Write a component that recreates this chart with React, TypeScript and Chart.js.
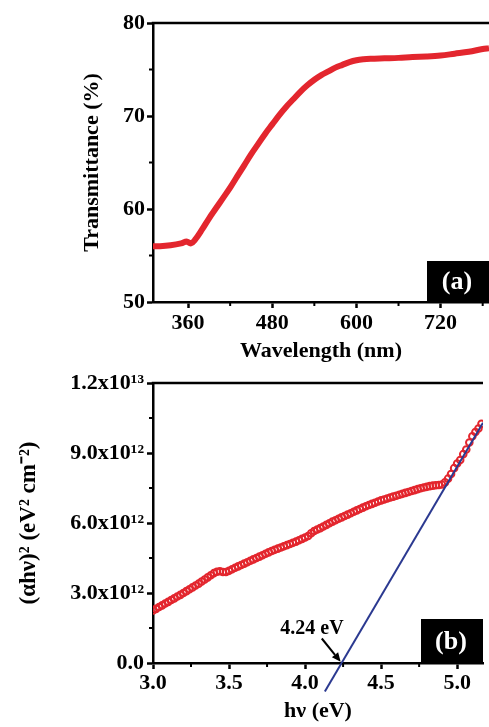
import React, { useEffect, useRef } from 'react';
import { Chart, registerables } from 'chart.js';

Chart.register(...registerables);

// ---------- Panel (a): transmittance ----------
const wavelengthNm = [310, 320, 335, 350, 358, 364, 370, 380, 390, 400, 410, 420, 430, 440, 450, 460, 470, 480, 490, 500, 510, 520, 530, 540, 550, 560, 570, 580, 590, 600, 610, 620, 640, 660, 680, 700, 720, 740, 760, 780, 789];
const transmittancePct = [56.0, 56.0, 56.1, 56.3, 56.5, 56.3, 56.7, 57.8, 59.0, 60.1, 61.2, 62.3, 63.5, 64.7, 65.9, 67.0, 68.1, 69.1, 70.1, 71.0, 71.8, 72.6, 73.3, 73.9, 74.4, 74.8, 75.2, 75.5, 75.8, 76.0, 76.1, 76.15, 76.2, 76.25, 76.35, 76.4, 76.5, 76.7, 76.9, 77.2, 77.3];
const xTicksA = [360, 480, 600, 720];
const xMinorA = [420, 540, 660, 780];
const yTicksA = [50, 60, 70, 80];
const yMinorA = [55, 65, 75];

// ---------- Panel (b): Tauc plot ----------
const photonEnergyEv = [
  3.00, 3.02, 3.04, 3.06, 3.08, 3.10, 3.12, 3.14, 3.16, 3.18,
  3.20, 3.22, 3.24, 3.26, 3.28, 3.30, 3.32, 3.34, 3.36, 3.38,
  3.40, 3.42, 3.44, 3.46, 3.48, 3.50, 3.52, 3.54, 3.56, 3.58,
  3.60, 3.62, 3.64, 3.66, 3.68, 3.70, 3.72, 3.74, 3.76, 3.78,
  3.80, 3.82, 3.84, 3.86, 3.88, 3.90, 3.92, 3.94, 3.96, 3.98,
  4.00, 4.02, 4.04, 4.06, 4.08, 4.10, 4.12, 4.14, 4.16, 4.18,
  4.20, 4.22, 4.24, 4.26, 4.28, 4.30, 4.32, 4.34, 4.36, 4.38,
  4.40, 4.42, 4.44, 4.46, 4.48, 4.50, 4.52, 4.54, 4.56, 4.58,
  4.60, 4.62, 4.64, 4.66, 4.68, 4.70, 4.72, 4.74, 4.76, 4.78,
  4.80, 4.82, 4.84, 4.86, 4.88, 4.90, 4.92, 4.94, 4.96, 4.98,
  5.00, 5.02, 5.04, 5.06, 5.08, 5.10, 5.12, 5.14, 5.16,
];
// (alpha h nu)^2 in units of 10^12 eV^2 cm^-2
const ahv2E12 = [
  2.25, 2.32, 2.40, 2.47, 2.55, 2.62, 2.70, 2.77, 2.85, 2.92,
  3.00, 3.08, 3.16, 3.24, 3.32, 3.40, 3.49, 3.58, 3.67, 3.76,
  3.85, 3.91, 3.93, 3.90, 3.90, 3.95, 4.02, 4.08, 4.14, 4.20,
  4.26, 4.32, 4.38, 4.44, 4.50, 4.56, 4.62, 4.68, 4.74, 4.80,
  4.85, 4.90, 4.95, 5.00, 5.05, 5.10, 5.15, 5.20, 5.26, 5.32,
  5.38, 5.44, 5.56, 5.66, 5.72, 5.78, 5.85, 5.92, 5.99, 6.06,
  6.12, 6.18, 6.24, 6.30, 6.36, 6.42, 6.48, 6.54, 6.60, 6.66,
  6.72, 6.77, 6.82, 6.87, 6.92, 6.97, 7.01, 7.05, 7.09, 7.13,
  7.17, 7.21, 7.25, 7.29, 7.33, 7.37, 7.41, 7.45, 7.49, 7.52,
  7.55, 7.58, 7.60, 7.62, 7.63, 7.65, 7.74, 7.90, 8.10, 8.35,
  8.55, 8.70, 8.95, 9.15, 9.45, 9.72, 9.90, 10.05, 10.25,
];
const tangentEv = [4.13, 5.17];
const tangentValue = [-1.22e12, 1.03e13];
const bandGapEv = 4.24;
const xTicksB = [3.0, 3.5, 4.0, 4.5, 5.0];
const xTickLabelsB = ['3.0', '3.5', '4.0', '4.5', '5.0'];
const xMinorB = [3.25, 3.75, 4.25, 4.75];
const yTicksB = [0, 3e12, 6e12, 9e12, 1.2e13];
const yTickLabelsB = ['0.0', '3.0x10¹²', '6.0x10¹²', '9.0x10¹²', '1.2x10¹³'];
const yMinorB = [1.5e12, 4.5e12, 7.5e12, 1.05e13];

const RED = '#e3262e';
const BLUE = '#2b3990';
const FONT_FAMILY = '"Liberation Serif", "Times New Roman", serif';
const tickFont = { family: FONT_FAMILY, size: 22, weight: 'bold' as const };
const titleFont = { family: FONT_FAMILY, size: 22, weight: 'bold' as const };

function makeFramePlugin(opts: {
  xMinor: number[];
  yMinor: number[];
  tag: string;
  tagHeight: number;
  annotate?: boolean;
}) {
  return {
    id: 'frameDecor',
    afterDraw(chart: any) {
      const { ctx, chartArea: a, scales } = chart;
      const xs = scales.x;
      const ys = scales.y;
      ctx.save();
      ctx.strokeStyle = '#000';
      ctx.lineCap = 'butt';
      // top border
      ctx.lineWidth = 2.5;
      ctx.beginPath();
      ctx.moveTo(a.left - 1.25, a.top);
      ctx.lineTo(a.right, a.top);
      ctx.stroke();
      // minor ticks
      ctx.lineWidth = 2;
      for (const v of opts.xMinor) {
        const px = xs.getPixelForValue(v);
        if (px < a.left || px > a.right) continue;
        ctx.beginPath();
        ctx.moveTo(px, a.bottom);
        ctx.lineTo(px, a.bottom + 4);
        ctx.stroke();
      }
      for (const v of opts.yMinor) {
        const py = ys.getPixelForValue(v);
        ctx.beginPath();
        ctx.moveTo(a.left, py);
        ctx.lineTo(a.left - 4, py);
        ctx.stroke();
      }
      // panel tag box
      const bw = 62;
      const bh = opts.tagHeight;
      ctx.fillStyle = '#000';
      ctx.fillRect(a.right - bw, a.bottom - bh, bw, bh);
      ctx.fillStyle = '#fff';
      ctx.font = `bold 26px ${FONT_FAMILY}`;
      ctx.textAlign = 'center';
      ctx.textBaseline = 'middle';
      ctx.fillText(opts.tag, a.right - bw + 30, a.bottom - bh / 2 + 1);

      if (opts.annotate) {
        // band-gap label and arrow
        ctx.fillStyle = '#000';
        ctx.font = `bold 20px ${FONT_FAMILY}`;
        ctx.textAlign = 'center';
        ctx.textBaseline = 'middle';
        ctx.fillText(`${bandGapEv.toFixed(2)} eV`, xs.getPixelForValue(4.045), ys.getPixelForValue(1.45e12));
        const x0 = xs.getPixelForValue(4.11);
        const y0 = ys.getPixelForValue(1.05e12);
        const x1 = xs.getPixelForValue(bandGapEv - 0.006);
        const y1 = ys.getPixelForValue(0.05e12);
        const ang = Math.atan2(y1 - y0, x1 - x0);
        const headLen = 9;
        const headW = 4;
        const bx = x1 - headLen * Math.cos(ang);
        const by = y1 - headLen * Math.sin(ang);
        ctx.strokeStyle = '#000';
        ctx.lineWidth = 2;
        ctx.beginPath();
        ctx.moveTo(x0, y0);
        ctx.lineTo(bx, by);
        ctx.stroke();
        ctx.beginPath();
        ctx.moveTo(x1, y1);
        ctx.lineTo(bx + headW * Math.sin(ang), by - headW * Math.cos(ang));
        ctx.lineTo(bx - headW * Math.sin(ang), by + headW * Math.cos(ang));
        ctx.closePath();
        ctx.fill();
      }
      ctx.restore();
    },
  };
}

function axisCommon() {
  return {
    grid: {
      display: true,
      drawOnChartArea: false,
      drawTicks: true,
      tickLength: 6,
      tickColor: '#000',
      tickWidth: 2.5,
    },
    border: { display: true, color: '#000', width: 2.5 },
  };
}

export default function App() {
  const refA = useRef<HTMLCanvasElement | null>(null);
  const refB = useRef<HTMLCanvasElement | null>(null);

  useEffect(() => {
    if (!refA.current || !refB.current) return;

    const chartA = new Chart(refA.current, {
      type: 'line',
      data: {
        datasets: [
          {
            data: wavelengthNm.map((w, i) => ({ x: w, y: transmittancePct[i] })),
            borderColor: RED,
            borderWidth: 6,
            pointRadius: 0,
            tension: 0.35,
            fill: false,
          },
        ],
      },
      options: {
        responsive: false,
        animation: false,
        devicePixelRatio: 1,
        layout: { padding: { top: 23, right: 0, bottom: 0, left: 0 } },
        plugins: { legend: { display: false }, tooltip: { enabled: false } },
        scales: {
          x: {
            type: 'linear',
            min: 310,
            max: 789,
            afterBuildTicks: (s: any) => {
              s.ticks = xTicksA.map((v) => ({ value: v }));
            },
            afterFit: (s: any) => {
              s.height = 63;
              s.paddingLeft = 0;
              s.paddingRight = 0;
            },
            ticks: { font: tickFont, color: '#000', padding: 2, maxRotation: 0, autoSkip: false, callback: (v: any) => String(v) },
            title: { display: true, text: 'Wavelength (nm)', font: titleFont, color: '#000', padding: { top: 0, bottom: 0 } },
            ...axisCommon(),
          },
          y: {
            type: 'linear',
            min: 50,
            max: 80,
            afterBuildTicks: (s: any) => {
              s.ticks = yTicksA.map((v) => ({ value: v }));
            },
            afterFit: (s: any) => {
              s.width = 153;
              s.paddingTop = 0;
              s.paddingBottom = 0;
            },
            ticks: { font: tickFont, color: '#000', padding: 2, autoSkip: false, callback: (v: any) => String(v) },
            title: { display: true, text: 'Transmittance (%)', font: titleFont, color: '#000', padding: { top: 79, bottom: 0 } },
            ...axisCommon(),
          },
        },
      },
      plugins: [makeFramePlugin({ xMinor: xMinorA, yMinor: yMinorA, tag: '(a)', tagHeight: 41 })],
    } as any);

    const chartB = new Chart(refB.current, {
      type: 'line',
      data: {
        datasets: [
          {
            data: tangentEv.map((e, i) => ({ x: e, y: tangentValue[i] })),
            borderColor: BLUE,
            borderWidth: 2,
            pointRadius: 0,
            fill: false,
            order: 0,
            clip: { left: 0, top: 0, right: 0, bottom: false },
          },
          {
            data: photonEnergyEv.map((e, i) => ({ x: e, y: ahv2E12[i] * 1e12 })),
            showLine: false,
            pointRadius: 3.3,
            pointBorderWidth: 2,
            pointBorderColor: RED,
            pointBackgroundColor: 'rgba(255,255,255,0)',
            order: 1,
          },
        ],
      },
      options: {
        responsive: false,
        animation: false,
        devicePixelRatio: 1,
        layout: { padding: { top: 18, right: 0, bottom: 0, left: 0 } },
        plugins: { legend: { display: false }, tooltip: { enabled: false } },
        scales: {
          x: {
            type: 'linear',
            min: 3.0,
            max: 5.17,
            afterBuildTicks: (s: any) => {
              s.ticks = xTicksB.map((v) => ({ value: v }));
            },
            afterFit: (s: any) => {
              s.height = 64;
              s.paddingLeft = 0;
              s.paddingRight = 0;
            },
            ticks: { font: tickFont, color: '#000', padding: 1, maxRotation: 0, autoSkip: false, callback: (_v: any, i: number) => xTickLabelsB[i] },
            title: { display: true, text: 'hν (eV)', font: titleFont, color: '#000', padding: { top: 0, bottom: 2 } },
            ...axisCommon(),
          },
          y: {
            type: 'linear',
            min: 0,
            max: 1.2e13,
            afterBuildTicks: (s: any) => {
              s.ticks = yTicksB.map((v) => ({ value: v }));
            },
            afterFit: (s: any) => {
              s.width = 153;
              s.paddingTop = 0;
              s.paddingBottom = 0;
            },
            ticks: { font: tickFont, color: '#000', padding: 3, autoSkip: false, callback: (_v: any, i: number) => yTickLabelsB[i] },
            title: { display: true, text: '(αhν)² (eV² cm⁻²)', font: { ...titleFont, size: 23 }, color: '#000', padding: { top: 15, bottom: 0 } },
            ...axisCommon(),
          },
        },
      },
      plugins: [makeFramePlugin({ xMinor: xMinorB, yMinor: yMinorB, tag: '(b)', tagHeight: 44, annotate: true })],
    } as any);

    return () => {
      chartA.destroy();
      chartB.destroy();
    };
  }, []);

  return (
    <div style={{ position: 'absolute', left: 0, top: 0, width: 489, height: 727, background: '#fff', overflow: 'hidden' }}>
      <canvas ref={refA} width={489} height={365} style={{ position: 'absolute', left: 0, top: 0, width: 489, height: 365 }} />
      <canvas ref={refB} width={489} height={362} style={{ position: 'absolute', left: 0, top: 365, width: 489, height: 362 }} />
    </div>
  );
}
